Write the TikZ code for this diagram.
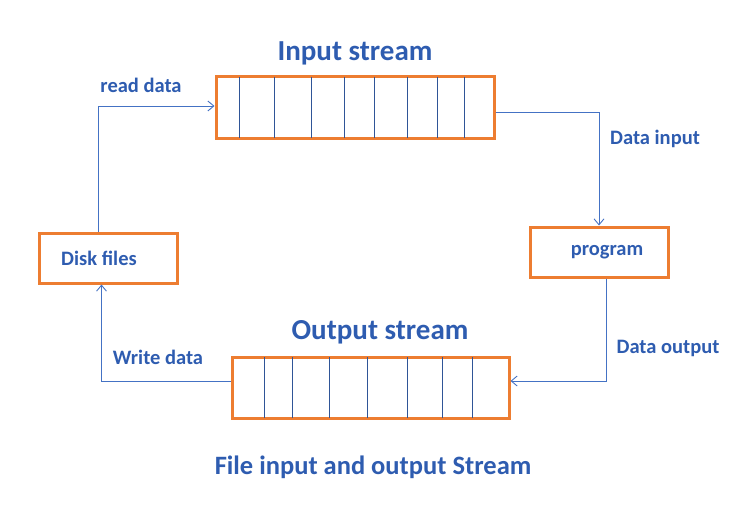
\documentclass[tikz,border=0pt]{standalone}
\usepackage{fontspec}
\setmainfont{Carlito}
\usepackage{tikz}
\usetikzlibrary{arrows.meta, positioning, calc}
\definecolor{cOrange}{RGB}{237,125,49}
\definecolor{cLine}{RGB}{68,114,196}
\definecolor{cCell}{RGB}{47,85,151}
\definecolor{cText}{RGB}{46,92,176}
\tikzset{
	buffer/.style   ={rectangle, draw=cOrange, line width=3pt, fill=white},
	filebox/.style  ={rectangle, draw=cOrange, line width=3pt, minimum width=138pt, minimum height=50pt, text=cText, font=\fontsize{20.5}{24}\selectfont\bfseries},
	title/.style    ={text=cText, font=\fontsize{29}{34}\selectfont\bfseries},
	lbl/.style      ={text=cText, font=\fontsize{20.5}{24}\selectfont\bfseries},
	conn/.style     ={-{Straight Barb[length=6pt, width=10pt]}, cLine, line width=0.9pt},
	cell/.style     ={cCell, line width=0.8pt},
}
\begin{document}
\begin{tikzpicture}[x=1pt, y=-1pt]
	\useasboundingbox (0,0) rectangle (749,524);
	% the two stream buffers
	\node[buffer, minimum width=278pt, minimum height=61pt] (inbuf) at (355,107.5) {};
	\node[buffer, minimum width=277pt, minimum height=61pt] (outbuf) at (370.5,387.5) {};
	\foreach \dx in {25,59.7,96.7,129.7,159.7,192.7,222.7,249.7}
		\draw[cell] ($(inbuf.north west)+(\dx,1.5)$) -- ($(inbuf.south west)+(\dx,-1.5)$);
	\foreach \dx in {33.7,62.3,99.3,137.3,177,212.3,241.7}
		\draw[cell] ($(outbuf.north west)+(\dx,1.5)$) -- ($(outbuf.south west)+(\dx,-1.5)$);
	\node[title] (intitle) at (355,53) {Input stream};
	\node[title] (outtitle) at (380,332) {Output stream};
	% disk and program
	\node[filebox] (disk) at (108,258) {Disk files\hspace*{18pt}};
	\node[filebox] (prog) at (599,252) {\hspace*{16pt}program};
	% connectors
	\draw[conn] ([xshift=-10pt]disk.north) |- ([yshift=1.5pt]inbuf.west);
	\draw[conn] ([yshift=-4.5pt]inbuf.east) -| (prog.north);
	\draw[conn] ([xshift=7pt]prog.south) |- ([yshift=6.5pt]outbuf.east);
	\draw[conn] ([yshift=6.5pt]outbuf.west) -| ([xshift=-6.5pt]disk.south);
	\node[lbl] (rdlbl) at (141,85) {read data};
	\node[lbl] (dilbl) at (655,139) {Data input};
	\node[lbl] (dolbl) at (668,348) {Data output};
	\node[lbl] (wrlbl) at (158,357) {Write data};
	\node[title, font=\fontsize{26.5}{31}\selectfont\bfseries] (caption) at (373,467) {File input and output Stream};
\end{tikzpicture}
\end{document}
